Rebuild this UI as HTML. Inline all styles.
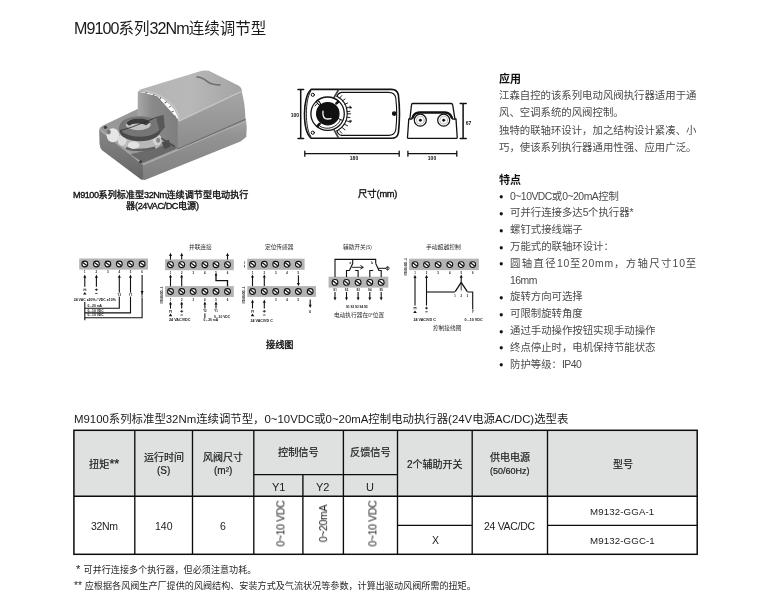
<!DOCTYPE html>
<html lang="zh-CN"><head><meta charset="utf-8"><title>M9100</title>
<style>
html,body{margin:0;padding:0;background:#fff}
body{width:770px;height:608px;position:relative;overflow:hidden;font-family:"Liberation Sans","Noto Sans CJK SC",sans-serif;color:#333}
.t{position:absolute;will-change:transform;white-space:nowrap;line-height:2em;letter-spacing:var(--s,0)}
.r{--w:5}.m{--w:11;-webkit-text-stroke:.35px currentColor}.b{--w:14}.h{--w:9;-webkit-text-stroke:.2px currentColor}
.b{font-weight:bold}
svg.a{position:absolute;left:0;top:0}
</style></head><body>
<svg class="a" width="770" height="608" viewBox="0 0 770 608">
<rect x="73.9" y="430.3" width="623.3" height="65.9" fill="#dfe0e0"/>
<g stroke="#0c0c0c" stroke-width="1.35" fill="none">
<path d="M134.8 430.3V554.3M192.5 430.3V554.3M253.8 430.3V554.3M302.9 474.6V554.3M343.4 430.3V554.3M397.5 430.3V554.3M472.2 430.3V554.3M547.5 430.3V554.3"/>
<path d="M73.9 496.2H697.2M253.8 474.6H397.5M397.5 525.4H472.2M547.5 525.4H697.2"/>
</g>
<rect x="73.9" y="430.3" width="623.3" height="124" fill="none" stroke="#0c0c0c" stroke-width="1.5"/>
</svg>

<svg class="a" width="770" height="608" viewBox="0 0 770 608">
<defs>
<filter id="pb" x="-5%" y="-5%" width="110%" height="110%"><feGaussianBlur stdDeviation="2.6"/></filter>
<linearGradient id="p1" x1="0" y1="0" x2="0" y2="1"><stop offset="0" stop-color="#a8a8a8"/><stop offset=".25" stop-color="#949494"/><stop offset="1" stop-color="#808080"/></linearGradient>
<linearGradient id="p2" x1="0" y1="0" x2="0" y2="1"><stop offset="0" stop-color="#858585"/><stop offset="1" stop-color="#666"/></linearGradient>
<linearGradient id="p3" x1="0" y1="0" x2="1" y2="0"><stop offset="0" stop-color="#b4b4b4"/><stop offset=".5" stop-color="#b8b8b8"/><stop offset="1" stop-color="#a4a4a4"/></linearGradient>
<linearGradient id="p4" x1="0" y1="0" x2="0" y2="1"><stop offset="0" stop-color="#a6a6a6"/><stop offset="1" stop-color="#8c8c8c"/></linearGradient>
<linearGradient id="p5" x1="0" y1="0" x2="1" y2="0"><stop offset="0" stop-color="#a8a8a8"/><stop offset=".35" stop-color="#8a8a8a"/><stop offset="1" stop-color="#7e7e7e"/></linearGradient>
<linearGradient id="p6" x1="0" y1="0" x2="0" y2="1"><stop offset="0" stop-color="#9a9a9a"/><stop offset="1" stop-color="#4c4c4c"/></linearGradient>
</defs>
<g transform="translate(95 65) scale(.2078)" filter="url(#pb)">
<!-- base right-front face -->
<path d="M226 474L726 258Q734 300 728 346L700 368L240 553Q228 556 228 545Z" fill="url(#p1)"/>
<path d="M228 478L726 266" stroke="#acacac" stroke-width="12" fill="none"/>
<!-- base left-front face -->
<path d="M20 312L230 478L232 548Q230 556 220 550L34 410Q24 400 22 380Z" fill="url(#p2)"/>
<!-- base top -->
<path d="M20 312Q22 300 36 292L205 212L400 300L400 402L230 478Z" fill="#989898"/>
<path d="M24 310L228 474" stroke="#a4a4a4" stroke-width="8" fill="none"/>
<path d="M170 430L232 470L400 400L400 350L300 400Z" fill="#6a6a6a"/>
<!-- cover left end + recess face -->
<path d="M206 128L300 150L400 262L400 402L205 300Z" fill="url(#p5)"/>
<!-- cover right-front face -->
<path d="M398 266L704 120Q722 180 724 260L398 402Z" fill="url(#p4)"/>
<!-- cover top -->
<path d="M208 130Q210 120 226 116L498 33Q525 22 548 28L692 100Q708 110 706 128L402 272Q398 215 330 165Q280 132 208 130Z" fill="url(#p3)"/>
<path d="M404 270L702 128" stroke="#c4c4c4" stroke-width="6" fill="none"/>
<!-- seam between cover and base -->
<path d="M398 404L724 262" stroke="#6e6e6e" stroke-width="6" fill="none"/>
<!-- metal body under ring -->
<path d="M112 330L300 330L318 350Q322 384 296 402L200 416Q130 404 112 372Z" fill="#b8b8b8"/>
<path d="M150 400Q210 420 290 398" stroke="#5e5e5e" stroke-width="12" fill="none"/>
<ellipse cx="86" cy="338" rx="30" ry="34" fill="#e6e6e6"/>
<ellipse cx="130" cy="362" rx="22" ry="26" fill="#dcdcdc"/>
<ellipse cx="186" cy="386" rx="28" ry="18" fill="#e2e2e2"/>
<ellipse cx="66" cy="322" rx="10" ry="12" fill="#7a7a7a"/>
<ellipse cx="300" cy="360" rx="22" ry="26" fill="#d2d2d2"/>
<ellipse cx="304" cy="362" rx="10" ry="13" fill="#8a8a8a"/>
<!-- ring clamp -->
<path d="M118 296v22a98 49 0 0 0 196 0v-22z" fill="#4c4c4c"/>
<ellipse cx="216" cy="296" rx="98" ry="49" fill="#747474"/>
<ellipse cx="208" cy="286" rx="60" ry="28" fill="#c2c2c2"/>
<path d="M150 282a60 28 0 0 1 116 -6l-20 14a44 16 0 0 0 -80 2z" fill="#3a3a3a"/>
<path d="M122 316L180 298L296 252" stroke="#303030" stroke-width="4" fill="none"/>
<path d="M292 250L330 240L336 300L314 326Z" fill="#585858"/>
<!-- latch -->
<path d="M322 372L356 360L364 392L334 406Z" fill="#4e4e4e"/>
<path d="M318 352L384 392" stroke="#505050" stroke-width="8" fill="none"/>
<!-- screws -->
<circle cx="50" cy="300" r="8" fill="#3c3c3c"/><circle cx="220" cy="466" r="8" fill="#3c3c3c"/>
<!-- logo -->
<path d="M488 58Q510 56 536 76Q560 96 604 96" stroke="#707070" stroke-width="8" fill="none"/>
<!-- scale marks -->
<path d="M250 130l-8 8M285 140l-6 10M318 156l-8 10M345 176l-10 8M365 198l-10 6M380 222l-12 4M388 246l-12 2" stroke="#6e6e6e" stroke-width="5" fill="none"/>
<path d="M240 122Q330 140 380 200Q404 232 404 270" stroke="#c6c6c6" stroke-width="7" fill="none"/>
</g>
</svg>

<svg class="a" width="770" height="608" viewBox="0 0 770 608" style="filter:blur(.35px)">
<g fill="none" stroke="#111" stroke-width="1.3" stroke-linecap="round" stroke-linejoin="round">
<!-- top view outer body -->
<path d="M311.2 89.4H391.5Q397.2 89.4 398.4 95Q400.6 114 398.4 132.8Q397.2 138.3 391.5 138.3H311.2C306.6 134.5 304.5 124 304.5 113.8C304.5 104 306.6 93 311.2 89.4Z" stroke-width="1.6"/>
<path d="M310.8 91.2C307.7 95.5 306.4 105 306.4 113.8C306.4 123 307.7 132.2 310.8 136.5" stroke-width="0.9"/>
<!-- right cover inner line -->
<path d="M336.9 96.3Q338 93 341.5 92.4H388.5Q394.8 92.4 395.8 98Q397.6 114 395.8 129.6Q394.8 135.4 388.5 135.4H341.5Q338 134.8 336.9 130.9" stroke-width="1.1"/>
<path d="M336.9 96.3A19.6 19.6 0 0 1 336.9 130.9" stroke-width="1.1"/>
<path d="M338.3 90.2L334.2 97.2M334.2 130.2L338.3 137.6" stroke="#444" stroke-width="1.7"/>
<!-- scale ticks -->
<g stroke-width="0.9">
<path d="M339.6 98L341.8 95.6M342.4 101L345 99M344.6 104.4L347.6 103M346.2 108L349.8 107M347 111.6L350 111.3M347.2 113.8L350.6 113.8M347 117.2L350 117.6M346.2 120.8L349.8 121.8M344.6 124.4L347.6 125.8M342.4 127.8L345 129.8M339.6 130.8L341.8 133.2"/>
</g>
<path d="M350.4 106.2l1.4 1.8l-2 .2zM350.4 122.6l1.4 -1.8l-2 -.2z" fill="#111" stroke-width=".5"/>
<!-- big circle -->
<circle cx="327.6" cy="113.7" r="16.7" stroke-width="1.3"/>
<circle cx="327.8" cy="113.7" r="11.2" fill="#111" stroke-width="1.2"/>
<path d="M320.2 126.4A14.2 14.2 0 0 0 340.6 119.6" stroke-width=".9"/>
<path d="M315 106A14.4 14.4 0 0 1 319.6 101.6" stroke-width=".9"/>
<!-- tabs -->
<path d="M317.4 101.4L319.8 104.2" stroke-width="3"/>
<path d="M317.7 101.8L319.5 103.8" stroke="#fff" stroke-width="1.1"/>
<path d="M317.6 126.2L319.6 123.8M336.4 103.4L338.2 101.8" stroke-width="2.6"/>
<path d="M338.4 118.6L342.4 120.4" stroke-width="1"/>
<!-- shaft hole -->
<path d="M323 111.2Q322.4 117.2 325.4 118.6Q327.6 119.4 331 118.6" stroke="#fff" stroke-width="1.3"/>
<!-- screw holes -->
<circle cx="312.8" cy="94.8" r="1.6" stroke-width="1"/>
<circle cx="312.8" cy="132.7" r="1.6" stroke-width="1"/>
<circle cx="394.2" cy="113.6" r="1.7" fill="#111"/>
<!-- dimension lines -->
<path d="M300.7 89.6V138.4M298 89.6H303.6M298 138.4H303.6" stroke-width="1.5"/>
<path d="M304.8 153.7H399.2M304.8 151.2V156.2M399.2 151.2V156.2" stroke-width="1.3"/>
<path d="M407.9 153.7H456.8M407.9 151.2V156.2M456.8 151.2V156.2" stroke-width="1.3"/>
<path d="M463.1 103.6V138.4M460.2 103.6H466.2M460.2 138.4H466.2" stroke-width="1.5"/>
<!-- side view -->
<path d="M412.6 103.5H451.3Q452.4 103.5 452.7 105L454.9 118.8H456L457.2 137.4Q457.2 138.4 456.2 138.4H408.3Q407.4 138.4 407.5 137.4L408.8 118.8H409.9L411.5 105Q411.7 103.5 412.6 103.5Z" stroke-width="1.3"/>
<path d="M409.9 119.2H411.8Q413.2 112.2 419.5 112.2H444.8Q451 112.2 452.6 119.2H454.9" stroke-width="1.2"/>
<path d="M412.6 117.8Q414.3 112.6 419.5 112.6H444.8Q450 112.6 451.8 117.8" stroke-width="2.2"/>
<circle cx="420.3" cy="120.2" r="6" fill="#fff" stroke-width="1.2"/>
<circle cx="443.7" cy="120.2" r="6" fill="#fff" stroke-width="1.2"/>
<circle cx="420.3" cy="120.2" r="3.9" stroke="#aaa" stroke-width="0.8"/>
<circle cx="443.7" cy="120.2" r="3.9" stroke="#aaa" stroke-width="0.8"/>
<circle cx="420.3" cy="120.2" r="1.2" fill="#111" stroke-width="0.6"/>
<circle cx="443.7" cy="120.2" r="1.2" fill="#111" stroke-width="0.6"/>
</g>
<g font-family="Liberation Sans, sans-serif" font-weight="bold" font-size="10" fill="#111" text-anchor="middle">
<text transform="translate(294.9 117.4) scale(.5)">100</text>
<text transform="translate(354 159.8) scale(.5)">180</text>
<text transform="translate(432 159.8) scale(.5)">100</text>
<text transform="translate(468.6 124.6) scale(.5)">67</text>
</g>
</svg>

<svg class="a" width="770" height="608" viewBox="0 0 770 608" style="filter:blur(.3px)" font-family="Liberation Sans, sans-serif" font-size="10">
<rect x="79.2" y="258.5" width="68.8" height="11.1" fill="#b4b4b4"/>
<circle cx="84.8" cy="264.0" r="2.9" fill="#fff" stroke="#111" stroke-width="1.1"/>
<path d="M82.9 262.5L86.7 265.5" stroke="#111" stroke-width="1.3"/>
<circle cx="96.4" cy="264.0" r="2.9" fill="#fff" stroke="#111" stroke-width="1.1"/>
<path d="M94.5 262.5L98.3 265.5" stroke="#111" stroke-width="1.3"/>
<circle cx="107.8" cy="264.0" r="2.9" fill="#fff" stroke="#111" stroke-width="1.1"/>
<path d="M105.9 262.5L109.7 265.5" stroke="#111" stroke-width="1.3"/>
<circle cx="119.3" cy="264.0" r="2.9" fill="#fff" stroke="#111" stroke-width="1.1"/>
<path d="M117.4 262.5L121.2 265.5" stroke="#111" stroke-width="1.3"/>
<circle cx="130.5" cy="264.0" r="2.9" fill="#fff" stroke="#111" stroke-width="1.1"/>
<path d="M128.6 262.5L132.4 265.5" stroke="#111" stroke-width="1.3"/>
<circle cx="142.1" cy="264.0" r="2.9" fill="#fff" stroke="#111" stroke-width="1.1"/>
<path d="M140.2 262.5L144.0 265.5" stroke="#111" stroke-width="1.3"/>
<text transform="translate(84.8 273.3) scale(0.28)" text-anchor="middle" font-weight="bold" fill="#111">1</text>
<text transform="translate(96.4 273.3) scale(0.28)" text-anchor="middle" font-weight="bold" fill="#111">2</text>
<text transform="translate(107.8 273.3) scale(0.28)" text-anchor="middle" font-weight="bold" fill="#111">3</text>
<text transform="translate(119.3 273.3) scale(0.28)" text-anchor="middle" font-weight="bold" fill="#111">4</text>
<text transform="translate(130.5 273.3) scale(0.28)" text-anchor="middle" font-weight="bold" fill="#111">5</text>
<text transform="translate(142.1 273.3) scale(0.28)" text-anchor="middle" font-weight="bold" fill="#111">6</text>
<path d="M84.8 274.6L83.3 277.8L86.3 277.8Z" fill="#111"/>
<path d="M84.8 277V286.8" fill="none" stroke="#111" stroke-width="1.10" stroke-linejoin="miter"/>
<path d="M96.4 274.6L94.9 277.8L97.9 277.8Z" fill="#111"/>
<path d="M96.4 277V286.8" fill="none" stroke="#111" stroke-width="1.10" stroke-linejoin="miter"/>
<path d="M83.3 289.2h3M83.3 290.4h1M85.3 290.4h1" fill="none" stroke="#111" stroke-width="0.80" stroke-linejoin="miter"/>
<path d="M84.8 292.0l1.8 2.6h-3.6z" fill="#111"/>
<path d="M94.9 289.7h3M96.4 288.4v2.6" fill="none" stroke="#111" stroke-width="0.80" stroke-linejoin="miter"/>
<path d="M95.2 293.4h2.4" fill="none" stroke="#111" stroke-width="0.80" stroke-linejoin="miter"/>
<path d="M119.3 274.6L117.8 277.8L120.8 277.8Z" fill="#111"/>
<path d="M119.3 277V308.2H84.8" fill="none" stroke="#111" stroke-width="1.10" stroke-linejoin="miter"/>
<path d="M130.5 274.6L129.0 277.8L132.0 277.8Z" fill="#111"/>
<path d="M130.5 277V312.9H84.8" fill="none" stroke="#111" stroke-width="1.10" stroke-linejoin="miter"/>
<path d="M142.1 275V317.7H84.8" fill="none" stroke="#111" stroke-width="1.10" stroke-linejoin="miter"/>
<path d="M142.1 294.2L140.6 291.0L143.6 291.0Z" fill="#111"/>
<path d="M84.8 302V320.2" fill="none" stroke="#111" stroke-width="1.10" stroke-linejoin="miter"/>
<text transform="translate(119.3 295.8) scale(0.28)" text-anchor="middle" font-weight="bold" fill="#111">Y2</text>
<text transform="translate(130.5 295.8) scale(0.28)" text-anchor="middle" font-weight="bold" fill="#111">Y1</text>
<text transform="translate(142.1 296.6) scale(0.28)" text-anchor="middle" font-weight="bold" fill="#111">U</text>
<rect x="116.8" y="292.6" width="5" height="4" fill="#fff"/>
<rect x="128.0" y="292.6" width="5" height="4" fill="#fff"/>
<rect x="139.6" y="294.4" width="5" height="3" fill="#fff"/>
<text transform="translate(119.3 295.8) scale(0.28)" text-anchor="middle" font-weight="bold" fill="#111">Y2</text>
<text transform="translate(130.5 295.8) scale(0.28)" text-anchor="middle" font-weight="bold" fill="#111">Y1</text>
<text transform="translate(142.1 297.2) scale(0.28)" text-anchor="middle" font-weight="bold" fill="#111">U</text>
<text transform="translate(73.7 300.8) scale(0.35)" text-anchor="start" font-weight="bold" fill="#111">24 VAC ±20% / VDC ±10%</text>
<text transform="translate(87.5 306.8) scale(0.33)" text-anchor="start" font-weight="bold" fill="#111">0...20 mA</text>
<text transform="translate(87.5 311.6) scale(0.33)" text-anchor="start" font-weight="bold" fill="#111">0...10 VDC</text>
<text transform="translate(87.5 316.4) scale(0.33)" text-anchor="start" font-weight="bold" fill="#111">0...10 VDC</text>
<rect x="165.1" y="259.4" width="68.7" height="10.8" fill="#b4b4b4"/>
<circle cx="170.5" cy="264.7" r="2.9" fill="#fff" stroke="#111" stroke-width="1.1"/>
<path d="M168.6 263.2L172.4 266.2" stroke="#111" stroke-width="1.3"/>
<circle cx="181.7" cy="264.7" r="2.9" fill="#fff" stroke="#111" stroke-width="1.1"/>
<path d="M179.8 263.2L183.6 266.2" stroke="#111" stroke-width="1.3"/>
<circle cx="193.2" cy="264.7" r="2.9" fill="#fff" stroke="#111" stroke-width="1.1"/>
<path d="M191.3 263.2L195.1 266.2" stroke="#111" stroke-width="1.3"/>
<circle cx="204.9" cy="264.7" r="2.9" fill="#fff" stroke="#111" stroke-width="1.1"/>
<path d="M203.0 263.2L206.8 266.2" stroke="#111" stroke-width="1.3"/>
<circle cx="216.0" cy="264.7" r="2.9" fill="#fff" stroke="#111" stroke-width="1.1"/>
<path d="M214.1 263.2L217.9 266.2" stroke="#111" stroke-width="1.3"/>
<circle cx="227.5" cy="264.7" r="2.9" fill="#fff" stroke="#111" stroke-width="1.1"/>
<path d="M225.6 263.2L229.4 266.2" stroke="#111" stroke-width="1.3"/>
<path d="M170.5 252.8L169.0 256.0L172.0 256.0Z" fill="#111"/>
<path d="M170.5 255V259.6" fill="none" stroke="#111" stroke-width="1.10" stroke-linejoin="miter"/>
<path d="M181.7 252.8L180.2 256.0L183.2 256.0Z" fill="#111"/>
<path d="M181.7 255V259.6" fill="none" stroke="#111" stroke-width="1.10" stroke-linejoin="miter"/>
<path d="M227.5 252.8L226.0 256.0L229.0 256.0Z" fill="#111"/>
<path d="M227.5 255V259.6" fill="none" stroke="#111" stroke-width="1.10" stroke-linejoin="miter"/>
<text transform="translate(170.5 273.6) scale(0.28)" text-anchor="middle" font-weight="bold" fill="#111">1</text>
<text transform="translate(181.7 273.6) scale(0.28)" text-anchor="middle" font-weight="bold" fill="#111">2</text>
<text transform="translate(193.2 273.6) scale(0.28)" text-anchor="middle" font-weight="bold" fill="#111">3</text>
<text transform="translate(204.9 273.6) scale(0.28)" text-anchor="middle" font-weight="bold" fill="#111">4</text>
<text transform="translate(216.0 273.6) scale(0.28)" text-anchor="middle" font-weight="bold" fill="#111">5</text>
<text transform="translate(227.5 273.6) scale(0.28)" text-anchor="middle" font-weight="bold" fill="#111">6</text>
<rect x="165.1" y="286.1" width="68.7" height="10.8" fill="#b4b4b4"/>
<circle cx="170.5" cy="291.5" r="2.9" fill="#fff" stroke="#111" stroke-width="1.1"/>
<path d="M168.6 290.0L172.4 293.0" stroke="#111" stroke-width="1.3"/>
<circle cx="181.7" cy="291.5" r="2.9" fill="#fff" stroke="#111" stroke-width="1.1"/>
<path d="M179.8 290.0L183.6 293.0" stroke="#111" stroke-width="1.3"/>
<circle cx="193.2" cy="291.5" r="2.9" fill="#fff" stroke="#111" stroke-width="1.1"/>
<path d="M191.3 290.0L195.1 293.0" stroke="#111" stroke-width="1.3"/>
<circle cx="204.9" cy="291.5" r="2.9" fill="#fff" stroke="#111" stroke-width="1.1"/>
<path d="M203.0 290.0L206.8 293.0" stroke="#111" stroke-width="1.3"/>
<circle cx="216.0" cy="291.5" r="2.9" fill="#fff" stroke="#111" stroke-width="1.1"/>
<path d="M214.1 290.0L217.9 293.0" stroke="#111" stroke-width="1.3"/>
<circle cx="227.5" cy="291.5" r="2.9" fill="#fff" stroke="#111" stroke-width="1.1"/>
<path d="M225.6 290.0L229.4 293.0" stroke="#111" stroke-width="1.3"/>
<path d="M170.5 274.4L169.0 277.6L172.0 277.6Z" fill="#111"/>
<path d="M170.5 277V286.3" fill="none" stroke="#111" stroke-width="1.10" stroke-linejoin="miter"/>
<path d="M181.7 274.4L180.2 277.6L183.2 277.6Z" fill="#111"/>
<path d="M181.7 277V286.3" fill="none" stroke="#111" stroke-width="1.10" stroke-linejoin="miter"/>
<circle cx="216.0" cy="274.8" r="1.1" fill="#111"/>
<path d="M216.0 274.8V280.6H227.5V286.3" fill="none" stroke="#111" stroke-width="1.30" stroke-linejoin="miter"/>
<text transform="translate(162.9 295.0) rotate(-90) scale(0.27)" text-anchor="middle" font-weight="bold" fill="#111">M9108-GG..-1</text>
<text transform="translate(170.5 300.6) scale(0.28)" text-anchor="middle" font-weight="bold" fill="#111">1</text>
<text transform="translate(181.7 300.6) scale(0.28)" text-anchor="middle" font-weight="bold" fill="#111">2</text>
<text transform="translate(193.2 300.6) scale(0.28)" text-anchor="middle" font-weight="bold" fill="#111">3</text>
<text transform="translate(204.9 300.6) scale(0.28)" text-anchor="middle" font-weight="bold" fill="#111">4</text>
<text transform="translate(216.0 300.6) scale(0.28)" text-anchor="middle" font-weight="bold" fill="#111">5</text>
<text transform="translate(227.5 300.6) scale(0.28)" text-anchor="middle" font-weight="bold" fill="#111">6</text>
<path d="M170.5 301.4L169.0 304.6L172.0 304.6Z" fill="#111"/>
<path d="M170.5 304V308.6" fill="none" stroke="#111" stroke-width="1.10" stroke-linejoin="miter"/>
<path d="M181.7 301.4L180.2 304.6L183.2 304.6Z" fill="#111"/>
<path d="M181.7 304V308.6" fill="none" stroke="#111" stroke-width="1.10" stroke-linejoin="miter"/>
<path d="M204.9 301.4L203.4 304.6L206.4 304.6Z" fill="#111"/>
<path d="M204.9 304V308.6" fill="none" stroke="#111" stroke-width="1.10" stroke-linejoin="miter"/>
<path d="M216.0 301.4L214.5 304.6L217.5 304.6Z" fill="#111"/>
<path d="M216.0 304V308.6" fill="none" stroke="#111" stroke-width="1.10" stroke-linejoin="miter"/>
<path d="M169.0 310.8h3M169.0 312.0h1M171.0 312.0h1" fill="none" stroke="#111" stroke-width="0.80" stroke-linejoin="miter"/>
<path d="M170.5 313.6l1.8 2.6h-3.6z" fill="#111"/>
<path d="M180.2 311.3h3M181.7 310.0v2.6" fill="none" stroke="#111" stroke-width="0.80" stroke-linejoin="miter"/>
<path d="M180.5 315.0h2.4" fill="none" stroke="#111" stroke-width="0.80" stroke-linejoin="miter"/>
<text transform="translate(204.9 312.4) scale(0.28)" text-anchor="middle" font-weight="bold" fill="#111">Y2</text>
<text transform="translate(216.0 312.4) scale(0.28)" text-anchor="middle" font-weight="bold" fill="#111">Y1</text>
<path d="M204.9 313.4V318" fill="none" stroke="#111" stroke-width="1.00" stroke-linejoin="miter"/>
<text transform="translate(169.0 321.2) scale(0.37)" text-anchor="start" font-weight="bold" fill="#111">24 VAC/VDC</text>
<text transform="translate(214.0 317.6) scale(0.33)" text-anchor="start" font-weight="bold" fill="#111">0...10 VDC</text>
<text transform="translate(203.6 321.4) scale(0.33)" text-anchor="start" font-weight="bold" fill="#111">0...20 mA</text>
<rect x="247.3" y="258.7" width="57.3" height="11.1" fill="#b4b4b4"/>
<circle cx="252.5" cy="264.3" r="2.9" fill="#fff" stroke="#111" stroke-width="1.1"/>
<path d="M250.6 262.8L254.4 265.8" stroke="#111" stroke-width="1.3"/>
<circle cx="264.3" cy="264.3" r="2.9" fill="#fff" stroke="#111" stroke-width="1.1"/>
<path d="M262.4 262.8L266.2 265.8" stroke="#111" stroke-width="1.3"/>
<circle cx="275.7" cy="264.3" r="2.9" fill="#fff" stroke="#111" stroke-width="1.1"/>
<path d="M273.8 262.8L277.6 265.8" stroke="#111" stroke-width="1.3"/>
<circle cx="287.1" cy="264.3" r="2.9" fill="#fff" stroke="#111" stroke-width="1.1"/>
<path d="M285.2 262.8L289.0 265.8" stroke="#111" stroke-width="1.3"/>
<circle cx="298.4" cy="264.3" r="2.9" fill="#fff" stroke="#111" stroke-width="1.1"/>
<path d="M296.5 262.8L300.3 265.8" stroke="#111" stroke-width="1.3"/>
<text transform="translate(245.0 264.5) rotate(-90) scale(0.25)" text-anchor="middle" font-weight="bold" fill="#111">No 4V</text>
<text transform="translate(252.5 273.6) scale(0.28)" text-anchor="middle" font-weight="bold" fill="#111">1</text>
<text transform="translate(264.3 273.6) scale(0.28)" text-anchor="middle" font-weight="bold" fill="#111">2</text>
<text transform="translate(275.7 273.6) scale(0.28)" text-anchor="middle" font-weight="bold" fill="#111">3</text>
<text transform="translate(287.1 273.6) scale(0.28)" text-anchor="middle" font-weight="bold" fill="#111">4</text>
<text transform="translate(298.4 273.6) scale(0.28)" text-anchor="middle" font-weight="bold" fill="#111">5</text>
<path d="M252.5 274.4L251.0 277.6L254.0 277.6Z" fill="#111"/>
<path d="M252.5 277V286.3" fill="none" stroke="#111" stroke-width="1.10" stroke-linejoin="miter"/>
<path d="M264.3 274.4L262.8 277.6L265.8 277.6Z" fill="#111"/>
<path d="M264.3 277V286.3" fill="none" stroke="#111" stroke-width="1.10" stroke-linejoin="miter"/>
<path d="M298.4 275.2V283.5" fill="none" stroke="#111" stroke-width="1.10" stroke-linejoin="miter"/>
<path d="M298.4 286.2L296.9 283.0L299.9 283.0Z" fill="#111"/>
<rect x="247.3" y="286.1" width="68.7" height="10.8" fill="#b4b4b4"/>
<circle cx="252.5" cy="291.5" r="2.9" fill="#fff" stroke="#111" stroke-width="1.1"/>
<path d="M250.6 290.0L254.4 293.0" stroke="#111" stroke-width="1.3"/>
<circle cx="264.3" cy="291.5" r="2.9" fill="#fff" stroke="#111" stroke-width="1.1"/>
<path d="M262.4 290.0L266.2 293.0" stroke="#111" stroke-width="1.3"/>
<circle cx="275.7" cy="291.5" r="2.9" fill="#fff" stroke="#111" stroke-width="1.1"/>
<path d="M273.8 290.0L277.6 293.0" stroke="#111" stroke-width="1.3"/>
<circle cx="287.1" cy="291.5" r="2.9" fill="#fff" stroke="#111" stroke-width="1.1"/>
<path d="M285.2 290.0L289.0 293.0" stroke="#111" stroke-width="1.3"/>
<circle cx="298.4" cy="291.5" r="2.9" fill="#fff" stroke="#111" stroke-width="1.1"/>
<path d="M296.5 290.0L300.3 293.0" stroke="#111" stroke-width="1.3"/>
<circle cx="310.2" cy="291.5" r="2.9" fill="#fff" stroke="#111" stroke-width="1.1"/>
<path d="M308.3 290.0L312.1 293.0" stroke="#111" stroke-width="1.3"/>
<text transform="translate(245.0 295.0) rotate(-90) scale(0.27)" text-anchor="middle" font-weight="bold" fill="#111">M9108-GG..-1</text>
<text transform="translate(275.7 300.6) scale(0.28)" text-anchor="middle" font-weight="bold" fill="#111">3</text>
<text transform="translate(287.1 300.6) scale(0.28)" text-anchor="middle" font-weight="bold" fill="#111">4</text>
<text transform="translate(298.4 300.6) scale(0.28)" text-anchor="middle" font-weight="bold" fill="#111">5</text>
<path d="M252.5 299.6L251.0 302.8L254.0 302.8Z" fill="#111"/>
<path d="M252.5 302V308.4" fill="none" stroke="#111" stroke-width="1.10" stroke-linejoin="miter"/>
<path d="M264.3 299.6L262.8 302.8L265.8 302.8Z" fill="#111"/>
<path d="M264.3 302V308.4" fill="none" stroke="#111" stroke-width="1.10" stroke-linejoin="miter"/>
<path d="M251.0 310.8h3M251.0 312.0h1M253.0 312.0h1" fill="none" stroke="#111" stroke-width="0.80" stroke-linejoin="miter"/>
<path d="M252.5 313.6l1.8 2.6h-3.6z" fill="#111"/>
<path d="M262.8 311.3h3M264.3 310.0v2.6" fill="none" stroke="#111" stroke-width="0.80" stroke-linejoin="miter"/>
<path d="M263.1 315.0h2.4" fill="none" stroke="#111" stroke-width="0.80" stroke-linejoin="miter"/>
<path d="M310.2 299.4V305" fill="none" stroke="#111" stroke-width="1.10" stroke-linejoin="miter"/>
<path d="M310.2 308.0L308.7 304.8L311.7 304.8Z" fill="#111"/>
<text transform="translate(310.2 312.8) scale(0.30)" text-anchor="middle" font-weight="bold" fill="#111">U</text>
<text transform="translate(250.4 321.8) scale(0.37)" text-anchor="start" font-weight="bold" fill="#111">24 VAC/VD C</text>
<rect x="328.6" y="276.7" width="59.7" height="10.9" fill="#b4b4b4"/>
<circle cx="335.0" cy="282.4" r="2.9" fill="#fff" stroke="#111" stroke-width="1.1"/>
<path d="M333.1 280.9L336.9 283.9" stroke="#111" stroke-width="1.3"/>
<circle cx="346.5" cy="282.4" r="2.9" fill="#fff" stroke="#111" stroke-width="1.1"/>
<path d="M344.6 280.9L348.4 283.9" stroke="#111" stroke-width="1.3"/>
<circle cx="358.1" cy="282.4" r="2.9" fill="#fff" stroke="#111" stroke-width="1.1"/>
<path d="M356.2 280.9L360.0 283.9" stroke="#111" stroke-width="1.3"/>
<circle cx="369.8" cy="282.4" r="2.9" fill="#fff" stroke="#111" stroke-width="1.1"/>
<path d="M367.9 280.9L371.7 283.9" stroke="#111" stroke-width="1.3"/>
<circle cx="381.2" cy="282.4" r="2.9" fill="#fff" stroke="#111" stroke-width="1.1"/>
<path d="M379.3 280.9L383.1 283.9" stroke="#111" stroke-width="1.3"/>
<path d="M335.0 276.9V259.4H375.7V263.6" fill="none" stroke="#111" stroke-width="1.10" stroke-linejoin="miter"/>
<path d="M352.7 259.4V263.6L349.4 270.6" fill="none" stroke="#111" stroke-width="1.10" stroke-linejoin="miter"/>
<path d="M346.5 276.9V270.5H349.6" fill="none" stroke="#111" stroke-width="1.10" stroke-linejoin="miter"/>
<path d="M358.1 276.9V270.5H355.2" fill="none" stroke="#111" stroke-width="1.10" stroke-linejoin="miter"/>
<path d="M352 267.3H362.8M360.4 265.4L363.4 267.3L360.4 269.2" fill="none" stroke="#111" stroke-width="0.90" stroke-linejoin="miter"/>
<path d="M375.7 263.6L379 270.6" fill="none" stroke="#111" stroke-width="1.10" stroke-linejoin="miter"/>
<path d="M369.8 276.9V270.5H373.2" fill="none" stroke="#111" stroke-width="1.10" stroke-linejoin="miter"/>
<path d="M381.2 276.9V270.5H378.6" fill="none" stroke="#111" stroke-width="1.10" stroke-linejoin="miter"/>
<path d="M378 268.3H389" fill="none" stroke="#111" stroke-width="1.00" stroke-linejoin="miter"/>
<circle cx="387.6" cy="268.3" r="1.5" fill="#fff" stroke="#111" stroke-width="0.8"/>
<path d="M387.6 266.2V270.4" fill="none" stroke="#111" stroke-width="0.70" stroke-linejoin="miter"/>
<text transform="translate(350.4 263.6) scale(0.30)" text-anchor="middle" font-weight="bold" fill="#111">a</text>
<text transform="translate(372.2 263.6) scale(0.30)" text-anchor="middle" font-weight="bold" fill="#111">b</text>
<text transform="translate(335.0 290.6) scale(0.28)" text-anchor="middle" font-weight="bold" fill="#111">S1</text>
<text transform="translate(346.5 290.6) scale(0.28)" text-anchor="middle" font-weight="bold" fill="#111">S2</text>
<text transform="translate(358.1 290.6) scale(0.28)" text-anchor="middle" font-weight="bold" fill="#111">S3</text>
<text transform="translate(369.8 290.6) scale(0.28)" text-anchor="middle" font-weight="bold" fill="#111">S4</text>
<text transform="translate(381.2 290.6) scale(0.28)" text-anchor="middle" font-weight="bold" fill="#111">S5</text>
<path d="M335.0 292V298" fill="none" stroke="#111" stroke-width="1.10" stroke-linejoin="miter"/>
<path d="M335.0 300.6L333.5 297.4L336.5 297.4Z" fill="#111"/>
<path d="M346.5 292V298" fill="none" stroke="#111" stroke-width="1.10" stroke-linejoin="miter"/>
<path d="M346.5 300.6L345.0 297.4L348.0 297.4Z" fill="#111"/>
<path d="M358.1 292V298" fill="none" stroke="#111" stroke-width="1.10" stroke-linejoin="miter"/>
<path d="M358.1 300.6L356.6 297.4L359.6 297.4Z" fill="#111"/>
<path d="M369.8 292V298" fill="none" stroke="#111" stroke-width="1.10" stroke-linejoin="miter"/>
<path d="M369.8 300.6L368.3 297.4L371.3 297.4Z" fill="#111"/>
<path d="M381.2 292V298" fill="none" stroke="#111" stroke-width="1.10" stroke-linejoin="miter"/>
<path d="M381.2 300.6L379.7 297.4L382.7 297.4Z" fill="#111"/>
<text transform="translate(356.8 308.2) scale(0.30)" text-anchor="middle" font-weight="bold" fill="#111">S1 S2 S3  S4 S5</text>
<rect x="409.1" y="258.7" width="69.8" height="11.4" fill="#b4b4b4"/>
<circle cx="415.0" cy="264.6" r="2.9" fill="#fff" stroke="#111" stroke-width="1.1"/>
<path d="M413.1 263.1L416.9 266.1" stroke="#111" stroke-width="1.3"/>
<circle cx="426.5" cy="264.6" r="2.9" fill="#fff" stroke="#111" stroke-width="1.1"/>
<path d="M424.6 263.1L428.4 266.1" stroke="#111" stroke-width="1.3"/>
<circle cx="438.1" cy="264.6" r="2.9" fill="#fff" stroke="#111" stroke-width="1.1"/>
<path d="M436.2 263.1L440.0 266.1" stroke="#111" stroke-width="1.3"/>
<circle cx="449.8" cy="264.6" r="2.9" fill="#fff" stroke="#111" stroke-width="1.1"/>
<path d="M447.9 263.1L451.7 266.1" stroke="#111" stroke-width="1.3"/>
<circle cx="461.2" cy="264.6" r="2.9" fill="#fff" stroke="#111" stroke-width="1.1"/>
<path d="M459.3 263.1L463.1 266.1" stroke="#111" stroke-width="1.3"/>
<circle cx="472.7" cy="264.6" r="2.9" fill="#fff" stroke="#111" stroke-width="1.1"/>
<path d="M470.8 263.1L474.6 266.1" stroke="#111" stroke-width="1.3"/>
<text transform="translate(407.2 266.8) rotate(-90) scale(0.27)" text-anchor="middle" font-weight="bold" fill="#111">M9108-GG..-1</text>
<text transform="translate(415.0 273.9) scale(0.28)" text-anchor="middle" font-weight="bold" fill="#111">1</text>
<text transform="translate(426.5 273.9) scale(0.28)" text-anchor="middle" font-weight="bold" fill="#111">2</text>
<text transform="translate(438.1 273.9) scale(0.28)" text-anchor="middle" font-weight="bold" fill="#111">3</text>
<text transform="translate(449.8 273.9) scale(0.28)" text-anchor="middle" font-weight="bold" fill="#111">4</text>
<text transform="translate(461.2 273.9) scale(0.28)" text-anchor="middle" font-weight="bold" fill="#111">5</text>
<text transform="translate(472.7 273.9) scale(0.28)" text-anchor="middle" font-weight="bold" fill="#111">6</text>
<path d="M415.0 274.8L413.5 278.0L416.5 278.0Z" fill="#111"/>
<path d="M415.0 277V305.6" fill="none" stroke="#111" stroke-width="1.10" stroke-linejoin="miter"/>
<path d="M426.5 274.8L425.0 278.0L428.0 278.0Z" fill="#111"/>
<path d="M426.5 277V305.6" fill="none" stroke="#111" stroke-width="1.10" stroke-linejoin="miter"/>
<path d="M426.5 292H455" fill="none" stroke="#111" stroke-width="1.10" stroke-linejoin="miter"/>
<path d="M413.5 307.6h3M413.5 308.8h1M415.5 308.8h1" fill="none" stroke="#111" stroke-width="0.80" stroke-linejoin="miter"/>
<path d="M415.0 310.4l1.8 2.6h-3.6z" fill="#111"/>
<path d="M425.0 308.1h3M426.5 306.8v2.6" fill="none" stroke="#111" stroke-width="0.80" stroke-linejoin="miter"/>
<path d="M425.3 311.8h2.4" fill="none" stroke="#111" stroke-width="0.80" stroke-linejoin="miter"/>
<path d="M461.2 274.6L459.7 277.8L462.7 277.8Z" fill="#111"/>
<path d="M461.2 277V282.4" fill="none" stroke="#111" stroke-width="1.10" stroke-linejoin="miter"/>
<path d="M461.2 282.4L455.2 291.6" fill="none" stroke="#111" stroke-width="1.30" stroke-linejoin="miter"/>
<path d="M461.2 282.4V290.6" fill="none" stroke="#111" stroke-width="0.80" stroke-linejoin="miter"/>
<path d="M461.2 282.4L467.3 291.6" fill="none" stroke="#111" stroke-width="1.30" stroke-linejoin="miter"/>
<path d="M467.3 292H472.7V309.6" fill="none" stroke="#111" stroke-width="1.10" stroke-linejoin="miter"/>
<text transform="translate(455.0 297.0) scale(0.27)" text-anchor="middle" font-weight="bold" fill="#111">1</text>
<text transform="translate(461.2 297.0) scale(0.27)" text-anchor="middle" font-weight="bold" fill="#111">2</text>
<text transform="translate(467.5 297.0) scale(0.27)" text-anchor="middle" font-weight="bold" fill="#111">3</text>
<text transform="translate(472.7 313.4) scale(0.32)" text-anchor="middle" font-weight="bold" fill="#111">Y</text>
<text transform="translate(413.4 321.2) scale(0.37)" text-anchor="start" font-weight="bold" fill="#111">24 VAC/VD C</text>
<text transform="translate(464.6 321.2) scale(0.37)" text-anchor="start" font-weight="bold" fill="#111">0...10 VDC</text>
</svg>
<div class="t r" style="left:73.60px;top:12.63px;font-size:15.50px;color:#1a1a1a;--w:7;"><span style="font-size:1.040em;letter-spacing:-0.95px;">M9100</span>系列<span style="font-size:1.040em;letter-spacing:-0.95px;">32Nm</span>连续调节型</div>
<div class="t m" style="left:73.48px;top:185.95px;font-size:9.10px;color:#111;--w:11;"><span style="letter-spacing:-0.45px;">M9100</span>系列标准型<span style="letter-spacing:-0.45px;">32Nm</span>连续调节型电动执行</div>
<div class="t m" style="left:125.82px;top:197.35px;font-size:9.10px;color:#111;--w:11;">器<span style="letter-spacing:-0.45px;">(24VAC/DC</span>电源<span style="letter-spacing:-0.45px;">)</span></div>
<div class="t m" style="left:358.46px;top:185.28px;font-size:9.30px;color:#111;--w:11;">尺寸<span style="letter-spacing:-0.30px;">(mm)</span></div>
<div class="t " style="left:189.00px;top:242.12px;font-size:5.70px;color:#2a2a2a;--w:10;">并联连接</div>
<div class="t " style="left:265.15px;top:242.12px;font-size:5.70px;color:#2a2a2a;--w:10;">定位传感器</div>
<div class="t " style="left:343.46px;top:242.12px;font-size:5.70px;color:#2a2a2a;--w:10;">辅助开关<span style="font-size:0.800em;">(S)</span></div>
<div class="t " style="left:426.10px;top:241.99px;font-size:5.80px;color:#2a2a2a;--w:10;">手动超越控制</div>
<div class="t " style="left:333.58px;top:310.12px;font-size:5.70px;color:#2a2a2a;--w:10;">电动执行器在<span style="font-size:0.850em;">0°</span>位置</div>
<div class="t " style="left:432.75px;top:322.82px;font-size:5.70px;color:#2a2a2a;--w:10;">控制接线图</div>
<div class="t m" style="left:266.20px;top:335.81px;font-size:9.20px;color:#111;--w:11;">接线图</div>
<div class="t b" style="left:499.30px;top:67.69px;font-size:11.00px;color:#111;">应用</div>
<div class="t r" style="left:498.80px;top:86.40px;font-size:10.40px;color:#4a4a4a;">江森自控的该系列电动风阀执行器适用于通</div>
<div class="t r" style="left:498.80px;top:103.30px;font-size:10.40px;color:#4a4a4a;">风、空调系统的风阀控制。</div>
<div class="t r" style="left:498.80px;top:120.50px;font-size:10.40px;color:#4a4a4a;">独特的联轴环设计，加之结构设计紧凑、小</div>
<div class="t r" style="left:498.80px;top:137.60px;font-size:10.40px;color:#4a4a4a;">巧，使该系列执行器通用性强、应用广泛。</div>
<div class="t b" style="left:499.30px;top:168.59px;font-size:11.00px;color:#111;">特点</div>
<div class="t " style="left:499.30px;top:189.20px;font-size:7.50px;color:#111;">●</div>
<div class="t r" style="left:510.00px;top:186.50px;font-size:10.40px;color:#4a4a4a;"><span style="letter-spacing:-0.50px;">0~10VDC</span>或<span style="letter-spacing:-0.50px;">0~20mA</span>控制</div>
<div class="t " style="left:499.30px;top:206.00px;font-size:7.50px;color:#111;">●</div>
<div class="t r" style="left:510.00px;top:203.30px;font-size:10.40px;color:#4a4a4a;">可并行连接多达<span style="letter-spacing:-0.50px;">5</span>个执行器<span style="letter-spacing:-0.50px;">*</span></div>
<div class="t " style="left:499.30px;top:222.80px;font-size:7.50px;color:#111;">●</div>
<div class="t r" style="left:510.00px;top:220.10px;font-size:10.40px;color:#4a4a4a;">螺钉式接线端子</div>
<div class="t " style="left:499.30px;top:239.60px;font-size:7.50px;color:#111;">●</div>
<div class="t r" style="left:510.00px;top:236.90px;font-size:10.40px;color:#4a4a4a;">万能式的联轴环设计：</div>
<div class="t " style="left:499.30px;top:256.40px;font-size:7.50px;color:#111;">●</div>
<div class="t r" style="left:510.00px;top:253.70px;font-size:10.40px;color:#4a4a4a;--s:1.326px;">圆轴直径<span style="letter-spacing:0.83px;">10</span>至<span style="letter-spacing:0.83px;">20mm</span>，方轴尺寸<span style="letter-spacing:0.83px;">10</span>至</div>
<div class="t r" style="left:510.00px;top:270.50px;font-size:10.40px;color:#4a4a4a;"><span style="letter-spacing:-0.50px;">16mm</span></div>
<div class="t " style="left:499.30px;top:290.00px;font-size:7.50px;color:#111;">●</div>
<div class="t r" style="left:510.00px;top:287.30px;font-size:10.40px;color:#4a4a4a;">旋转方向可选择</div>
<div class="t " style="left:499.30px;top:306.80px;font-size:7.50px;color:#111;">●</div>
<div class="t r" style="left:510.00px;top:304.10px;font-size:10.40px;color:#4a4a4a;">可限制旋转角度</div>
<div class="t " style="left:499.30px;top:323.60px;font-size:7.50px;color:#111;">●</div>
<div class="t r" style="left:510.00px;top:320.90px;font-size:10.40px;color:#4a4a4a;">通过手动操作按钮实现手动操作</div>
<div class="t " style="left:499.30px;top:340.40px;font-size:7.50px;color:#111;">●</div>
<div class="t r" style="left:510.00px;top:337.70px;font-size:10.40px;color:#4a4a4a;">终点停止时，电机保持节能状态</div>
<div class="t " style="left:499.30px;top:357.20px;font-size:7.50px;color:#111;">●</div>
<div class="t r" style="left:510.00px;top:354.50px;font-size:10.40px;color:#4a4a4a;">防护等级：<span style="letter-spacing:-0.50px;">IP40</span></div>
<div class="t r" style="left:73.50px;top:407.85px;font-size:11.40px;color:#1a1a1a;--w:8;">M9100系列标准型32Nm连续调节型，0~10VDC或0~20mA控制电动执行器(24V电源AC/DC)选型表</div>
<div class="t h" style="left:89.04px;top:454.27px;font-size:10.20px;color:#1c1c1c;">扭矩<span style="font-size:1.250em;">**</span></div>
<div class="t h" style="left:143.70px;top:447.54px;font-size:10.00px;color:#1c1c1c;">运行时间</div>
<div class="t h" style="left:157.03px;top:460.54px;font-size:10.00px;color:#1c1c1c;">(S)</div>
<div class="t h" style="left:203.00px;top:447.54px;font-size:10.00px;color:#1c1c1c;">风阀尺寸</div>
<div class="t h" style="left:213.84px;top:460.54px;font-size:10.00px;color:#1c1c1c;">(m²)</div>
<div class="t h" style="left:278.00px;top:443.07px;font-size:10.20px;color:#1c1c1c;">控制信号</div>
<div class="t h" style="left:349.70px;top:443.07px;font-size:10.20px;color:#1c1c1c;">反馈信号</div>
<div class="t h" style="left:407.22px;top:454.54px;font-size:10.00px;color:#1c1c1c;">2个辅助开关</div>
<div class="t h" style="left:490.00px;top:447.54px;font-size:10.00px;color:#1c1c1c;">供电电源</div>
<div class="t h" style="left:490.24px;top:461.88px;font-size:9.00px;color:#1c1c1c;">(50/60Hz)</div>
<div class="t h" style="left:612.70px;top:454.54px;font-size:10.00px;color:#1c1c1c;">型号</div>
<div class="t " style="left:271.87px;top:475.79px;font-size:11.00px;color:#1c1c1c;">Y1</div>
<div class="t " style="left:316.37px;top:475.79px;font-size:11.00px;color:#1c1c1c;">Y2</div>
<div class="t " style="left:366.33px;top:475.79px;font-size:11.00px;color:#1c1c1c;">U</div>
<div class="t " style="left:90.80px;top:516.16px;font-size:10.50px;color:#1c1c1c;"><span style="letter-spacing:-0.30px;">32Nm</span></div>
<div class="t " style="left:154.94px;top:516.16px;font-size:10.50px;color:#1c1c1c;">140</div>
<div class="t " style="left:220.08px;top:516.16px;font-size:10.50px;color:#1c1c1c;">6</div>
<div class="t " style="left:431.50px;top:530.36px;font-size:10.50px;color:#1c1c1c;">X</div>
<div class="t " style="left:484.22px;top:516.16px;font-size:10.50px;color:#1c1c1c;"><span style="letter-spacing:-0.30px;">24 VAC/DC</span></div>
<div class="t " style="left:590.20px;top:502.24px;font-size:9.70px;color:#1c1c1c;"><span style="letter-spacing:0.12px;">M9132-GGA-1</span></div>
<div class="t " style="left:589.94px;top:531.44px;font-size:9.70px;color:#1c1c1c;"><span style="letter-spacing:0.12px;">M9132-GGC-1</span></div>
<div class="t r" style="left:76.10px;top:560.05px;font-size:9.10px;color:#262626;"><span style="font-size:1.250em;">* </span>可并行连接多个执行器，但必须注意功耗。</div>
<div class="t r" style="left:73.50px;top:576.75px;font-size:9.10px;color:#262626;"><span style="font-size:1.120em;">** </span>应根据各风阀生产厂提供的风阀结构、安装方式及气流状况等参数，计算出驱动风阀所需的扭矩。</div>
<div class="t " style="left:257.70px;top:513.40px;font-size:10.60px;color:#1c1c1c;transform:rotate(-90deg);"><span style="letter-spacing:-0.40px;">0~10 VDC</span></div>
<div class="t " style="left:305.11px;top:513.20px;font-size:10.60px;color:#1c1c1c;transform:rotate(-90deg);"><span style="letter-spacing:-0.40px;">0~20mA</span></div>
<div class="t " style="left:349.60px;top:513.40px;font-size:10.60px;color:#1c1c1c;transform:rotate(-90deg);"><span style="letter-spacing:-0.40px;">0~10 VDC</span></div>
</body></html>
